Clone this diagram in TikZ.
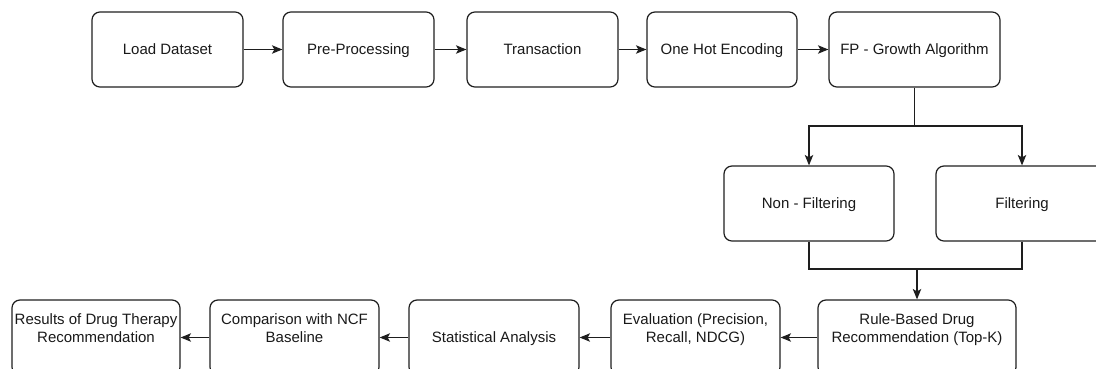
\documentclass[tikz,border=0pt]{standalone}
\usepackage{fontspec}
\setmainfont{Liberation Sans}
\usepackage{tikz}
\usetikzlibrary{arrows.meta}
\definecolor{boxline}{RGB}{30, 30, 30}
\definecolor{boxtext}{RGB}{25, 25, 25}

\begin{document}
\begin{tikzpicture}[x=0.025cm, y=-0.025cm,
    stepbox/.style={draw=boxline, line width=0.85pt, rounded corners=0.2cm,
      minimum height=1.875cm, align=center, inner sep=1pt,
      text height=9.6pt, text depth=2.3pt,
      font=\fontsize{10.67}{12.8}\selectfont, text=boxtext},
    flow/.style={->, >={Stealth[length=2.6mm, width=2.1mm, inset=0.6mm]}, line width=0.85pt, draw=boxline},
    link/.style={line width=0.85pt, draw=boxline}]
    \path[use as bounding box, clip] (0,0) rectangle (1096,368);
    % upper row
    \node[stepbox, minimum width=3.775cm] (load) at (167.5,49.5) {Load Dataset};
    \node[stepbox, minimum width=3.775cm] (prep) at (358.5,49.5) {Pre-Processing};
    \node[stepbox, minimum width=3.775cm] (trans) at (542.5,49.5) {Transaction};
    \node[stepbox, minimum width=3.75cm] (onehot) at (722,49.5) {One Hot Encoding};
    \node[stepbox, minimum width=4.275cm] (fpg) at (914.5,49.5) {FP - Growth Algorithm};
    % filtering branch
    \node[stepbox, minimum width=4.25cm] (nonfilt) at (809,203.5) {Non - Filtering};
    \node[stepbox, minimum width=4.3cm] (filt) at (1022,203.5) {Filtering};
    \coordinate (split) at (914.5,126);
    \coordinate (merge) at (917,269);
    % lower row
    \node[stepbox, minimum width=4.95cm] (rule) at (917,337.5) {Rule-Based Drug\\Recommendation (Top-K)};
    \node[stepbox, minimum width=4.225cm] (eval) at (695.5,337.5) {Evaluation (Precision,\\Recall, NDCG)};
    \node[stepbox, minimum width=4.25cm] (stat) at (494,337.5) {Statistical Analysis};
    \node[stepbox, minimum width=4.225cm] (comp) at (294.5,337.5) {Comparison with NCF\\Baseline};
    \node[stepbox, minimum width=4.2cm] (res) at (96,337.5) {Results of Drug Therapy\\Recommendation};

    \draw[flow] (load) -- (prep);
    \draw[flow] (prep) -- (trans);
    \draw[flow] (trans) -- (onehot);
    \draw[flow] (onehot) -- (fpg);
    \draw[link] (fpg.south) -- (split);
    \draw[flow] (split) -| (nonfilt.north);
    \draw[flow] (split) -| (filt.north);
    \draw[link] (nonfilt.south) |- (merge);
    \draw[link] (filt.south) |- (merge);
    \draw[flow] (merge) -- (rule.north);
    \draw[flow] (rule) -- (eval);
    \draw[flow] (eval) -- (stat);
    \draw[flow] (stat) -- (comp);
    \draw[flow] (comp) -- (res);
  \end{tikzpicture}
\end{document}
